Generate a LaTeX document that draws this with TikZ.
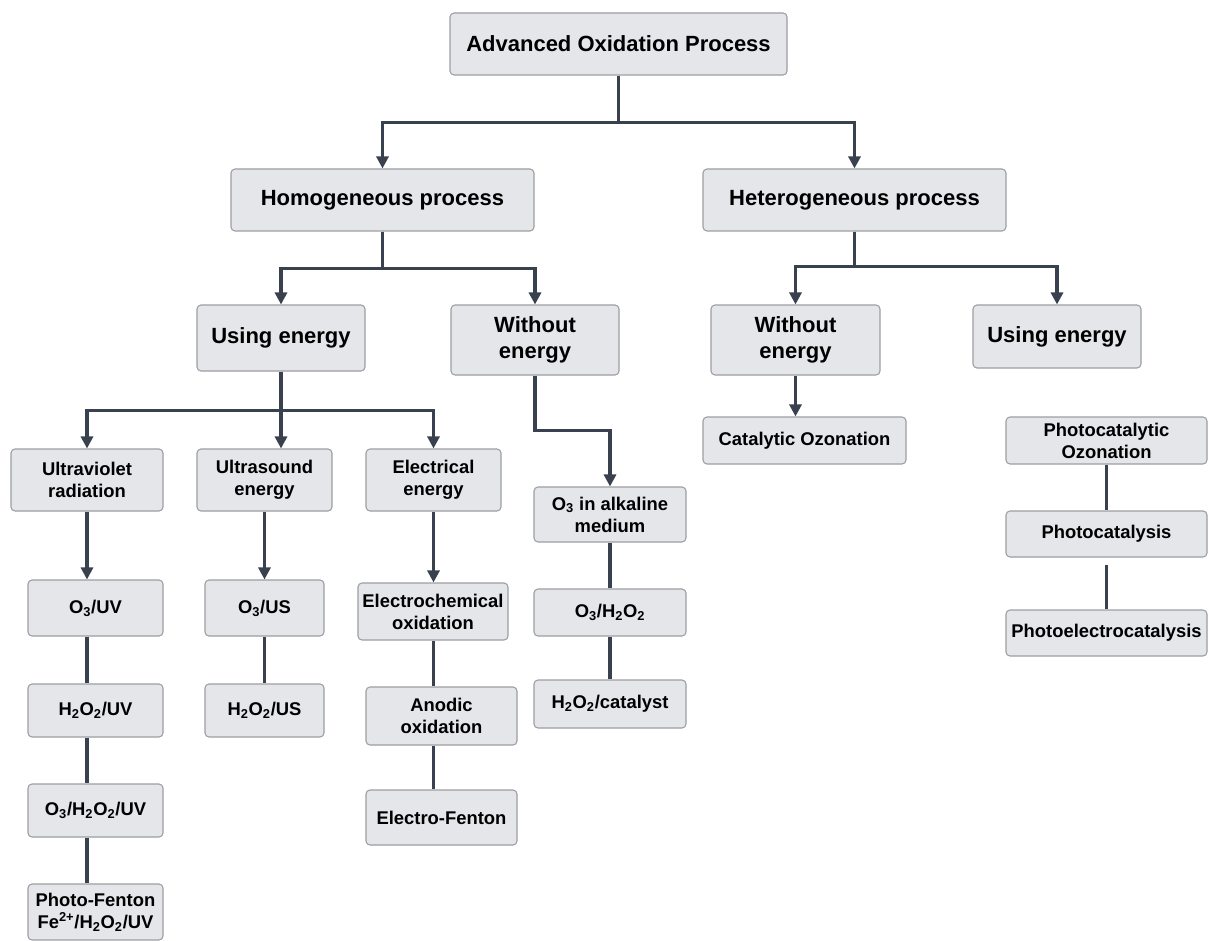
\documentclass[tikz,border=0pt]{standalone}
\usepackage{fontspec}
\setmainfont{Liberation Sans}
\usetikzlibrary{arrows.meta}

\definecolor{boxfill}{HTML}{E4E6EA}
\definecolor{boxedge}{HTML}{9C9EA2}
\definecolor{linkcol}{HTML}{3A414E}

\begin{document}
\begin{tikzpicture}[x=0.75pt, y=-0.75pt, >={Triangle[length=9pt,width=9pt]},
    procbox/.style={draw=boxedge, line width=0.8pt, fill=boxfill, rounded corners=3pt,
        align=center, inner sep=0pt, font=\bfseries\fontsize{16.5}{19}\selectfont},
    methbox/.style={procbox, font=\bfseries\fontsize{13.8}{16.5}\selectfont},
    sz/.style 2 args={minimum width=#1*0.75pt, minimum height=#2*0.75pt},
    link/.style={draw=linkcol, line width=2.4pt}]

    \useasboundingbox (0,0) rectangle (1209,941);

    % ==========================================
    % DROP LENGTHS (down to each branching bus)
    % ==========================================
    \pgfmathsetmacro{\Droot}{47}   % root -> homogeneous / heterogeneous
    \pgfmathsetmacro{\Dhomo}{37}   % homogeneous -> energy split
    \pgfmathsetmacro{\Dhet}{35}    % heterogeneous -> energy split
    \pgfmathsetmacro{\Duse}{39}    % using energy -> sources
    \pgfmathsetmacro{\Dwo}{55}     % without energy -> ozone branch
    % ==========================================

    % Top levels
    \node[procbox, sz={337}{62}] (root) at (618.5,44) {Advanced Oxidation Process};
    \node[procbox, sz={303}{62}] (homo) at (382.5,200) {Homogeneous process};
    \node[procbox, sz={303}{62}] (hetero) at (854.5,200) {Heterogeneous process};

    % Energy split
    \node[procbox, sz={168}{66}] (useL) at (281,338) {Using energy};
    \node[procbox, sz={168}{70}] (woM) at (535,340) {Without\\energy};
    \node[procbox, sz={169}{70}] (woR) at (795.5,340) {Without\\energy};
    \node[procbox, sz={168}{63}] (useR) at (1057,336.5) {Using energy};

    % Energy sources
    \node[methbox, sz={152}{62}] (uv) at (87,480) {Ultraviolet\\radiation};
    \node[methbox, sz={135}{62}] (us) at (264.5,480) {Ultrasound\\energy};
    \node[methbox, sz={135}{62}] (elec) at (433.5,480) {Electrical\\energy};

    % Ultraviolet column
    \node[methbox, sz={135}{56}] (o3uv) at (95.5,608) {O\textsubscript{3}/UV};
    \node[methbox, sz={135}{53}] (h2o2uv) at (95.5,710.5) {H\textsubscript{2}O\textsubscript{2}/UV};
    \node[methbox, sz={135}{53}] (o3h2o2uv) at (95.5,810.5) {O\textsubscript{3}/H\textsubscript{2}O\textsubscript{2}/UV};
    \node[methbox, sz={135}{56}] (pfenton) at (95.5,912) {Photo-Fenton\\Fe\textsuperscript{2+}/H\textsubscript{2}O\textsubscript{2}/UV};

    % Ultrasound column
    \node[methbox, sz={119}{56}] (o3us) at (264.5,608) {O\textsubscript{3}/US};
    \node[methbox, sz={119}{53}] (h2o2us) at (264.5,710.5) {H\textsubscript{2}O\textsubscript{2}/US};

    % Electrical column
    \node[methbox, sz={150}{57}] (echem) at (433,611.5) {Electrochemical\\oxidation};
    \node[methbox, sz={151}{58}] (anodic) at (441.5,716) {Anodic\\oxidation};
    \node[methbox, sz={151}{55}] (efenton) at (441.5,817.5) {Electro-Fenton};

    % Without energy (homogeneous) column
    \node[methbox, sz={152}{55}] (alk) at (610,514.5) {O\textsubscript{3} in alkaline\\medium};
    \node[methbox, sz={152}{47}] (o3h2o2) at (610,612.5) {O\textsubscript{3}/H\textsubscript{2}O\textsubscript{2}};
    \node[methbox, sz={152}{48}] (h2o2cat) at (610,704) {H\textsubscript{2}O\textsubscript{2}/catalyst};

    % Heterogeneous columns
    \node[methbox, sz={203}{47}] (catoz) at (804.5,440.5) {Catalytic Ozonation};
    \node[methbox, sz={201}{47}] (pcoz) at (1106.5,440.5) {Photocatalytic\\Ozonation};
    \node[methbox, sz={201}{46}] (pcat) at (1106.5,534) {Photocatalysis};
    \node[methbox, sz={201}{46}] (pecat) at (1106.5,633) {Photoelectrocatalysis};

    % Branching arrows
    \draw[link,->] (root.south) -- ++(0,\Droot) -| (homo.north);
    \draw[link,->] (root.south) -- ++(0,\Droot) -| (hetero.north);
    \draw[link,->] (homo.south) -- ++(0,\Dhomo) -| (useL.north);
    \draw[link,->] (homo.south) -- ++(0,\Dhomo) -| (woM.north);
    \draw[link,->] (hetero.south) -- ++(0,\Dhet) -| (woR.north);
    \draw[link,->] (hetero.south) -- ++(0,\Dhet) -| (useR.north);
    \draw[link,->] (useL.south) -- ++(0,\Duse) -| (uv.north);
    \draw[link,->] (useL.south) -- (us.north -| useL.south);
    \draw[link,->] (useL.south) -- ++(0,\Duse) -| (elec.north);
    \draw[link,->] (woM.south) -- ++(0,\Dwo) -| (alk.north);
    \draw[link,->] (woR.south) -- (woR.south |- catoz.north);

    % Source arrows
    \draw[link,->] (uv.south) -- (uv.south |- o3uv.north);
    \draw[link,->] (us.south) -- (o3us.north);
    \draw[link,->] (elec.south) -- (elec.south |- echem.north);

    % Plain links down each column
    \draw[link] (o3uv.south -| uv.south) -- (h2o2uv.north -| uv.south);
    \draw[link] (h2o2uv.south -| uv.south) -- (o3h2o2uv.north -| uv.south);
    \draw[link] (o3h2o2uv.south -| uv.south) -- (pfenton.north -| uv.south);
    \draw[link] (o3us.south) -- (h2o2us.north);
    \draw[link] (echem.south -| elec.south) -- (anodic.north -| elec.south);
    \draw[link] (anodic.south -| elec.south) -- (efenton.north -| elec.south);
    \draw[link] (alk.south) -- (o3h2o2.north);
    \draw[link] (o3h2o2.south) -- (h2o2cat.north);
    \draw[link] (pcoz.south) -- (pcat.north);
    \draw[link] (pcat.south) ++(0,7) -- (pecat.north);

\end{tikzpicture}
\end{document}
